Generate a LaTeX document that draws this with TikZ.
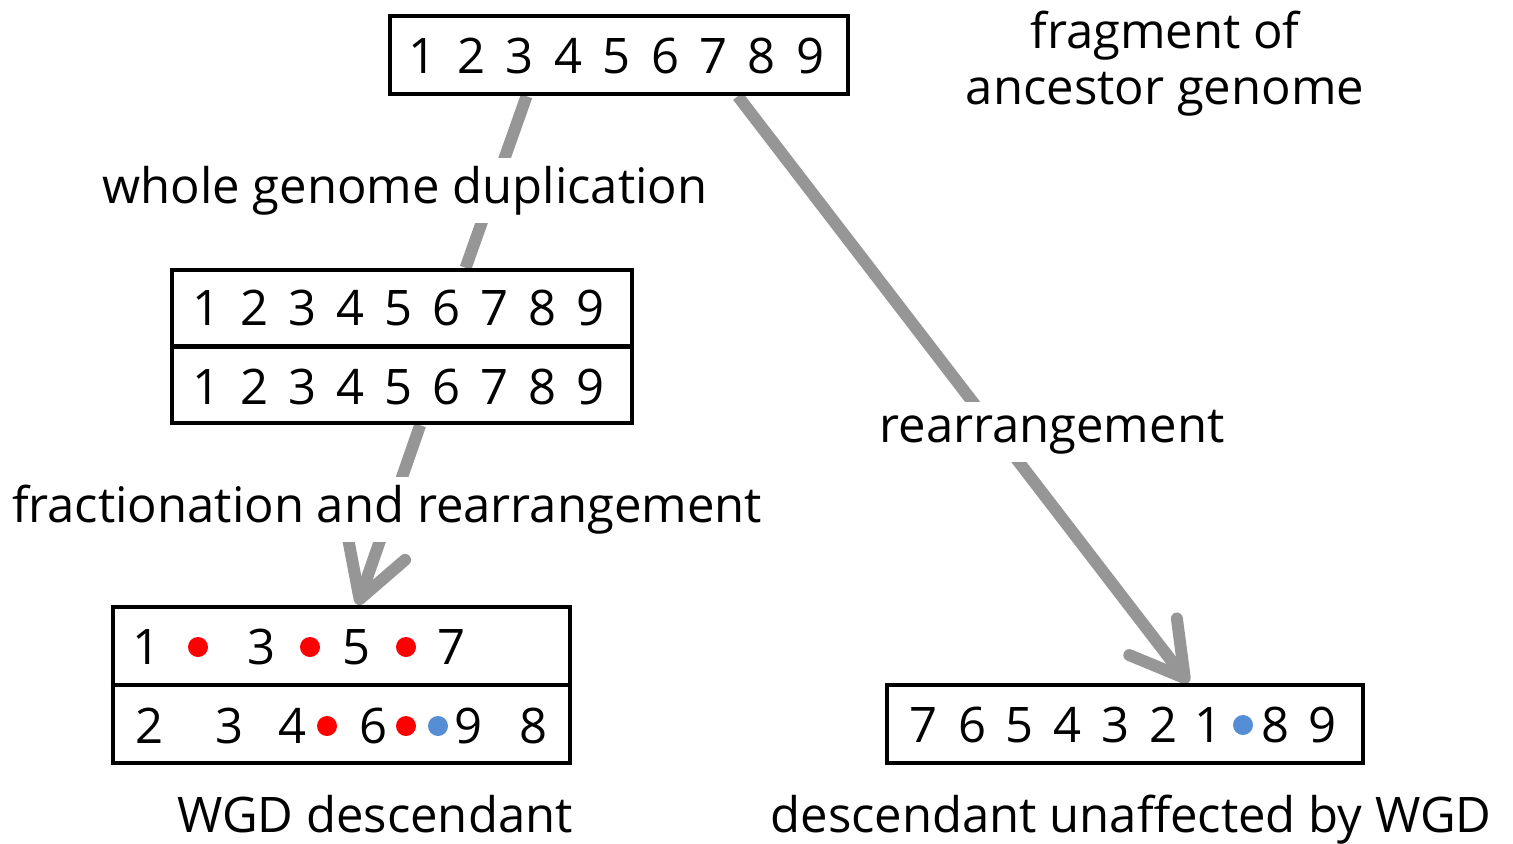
\documentclass[tikz,border=0pt]{standalone}
\usepackage{fontspec}
\setmainfont{Open Sans}
\usetikzlibrary{arrows.meta,calc}
\definecolor{arrowgray}{RGB}{150,150,150}
\definecolor{dotred}{RGB}{255,0,0}
\definecolor{dotblue}{RGB}{85,142,213}
\pgfdeclarelayer{bg}
\pgfsetlayers{bg,main}
\begin{document}
\begin{tikzpicture}[x=0.5pt,y=-0.5pt,
  box/.style={draw=black,line width=2.2pt,rectangle,inner sep=0pt},
  divider/.style={draw=black,line width=2.2pt},
  digit/.style={inner sep=0pt,font=\fontsize{24.5}{29}\selectfont},
  lbl/.style={font=\fontsize{24.5}{28}\selectfont,inner sep=4pt},
  lblgap/.style={lbl,fill=white},
  conn/.style={draw=arrowgray,line width=6pt},
  arr/.style={conn,-{Straight Barb[length=26pt,width=30pt,round]}},
  rdot/.style={circle,fill=dotred,inner sep=0pt,minimum size=10pt},
  bdot/.style={circle,fill=dotblue,inner sep=0pt,minimum size=10pt}]
\useasboundingbox (0,0) rectangle (1513,843);

% boxes
\node[box,minimum width=229pt,minimum height=39pt] (anc) at (619,55) {};
\node[box,minimum width=230pt,minimum height=76.5pt] (mid) at (402,346.5) {};
\draw[divider] (mid.west) -- (mid.east);
\node[box,minimum width=228.5pt,minimum height=78pt] (wgdbox) at (341.5,685) {};
\draw[divider] (wgdbox.west) -- (wgdbox.east);
\node[box,minimum width=238pt,minimum height=39pt] (unbox) at (1125,724) {};

% connectors
\begin{pgfonlayer}{bg}
\draw[conn] ($(anc.south west)!0.30!(anc.south east)$) -- ($(mid.north west)!0.637!(mid.north east)$);
\draw[arr] ($(mid.south west)!0.539!(mid.south east)$) -- ($(wgdbox.north west)!0.535!(wgdbox.north east)$);
\draw[arr] ($(anc.south west)!0.757!(anc.south east)$) -- ($(unbox.north west)!0.632!(unbox.north east)$);
\end{pgfonlayer}

% labels
\node[lblgap,anchor=base] (wgdlbl) at (405,203) {whole genome duplication};
\node[lblgap,anchor=base] (fraclbl) at (387,522) {fractionation and rearrangement};
\node[lblgap,anchor=base] (realbl) at (1052,442) {rearrangement};
\node[lbl,anchor=base] (frag1) at (1165,48) {fragment of};
\node[lbl,anchor=base] (frag2) at (1165,104) {ancestor genome};
\node[lbl,anchor=base] (wgdd) at (375,832) {WGD descendant};
\node[lbl,anchor=base] (unaff) at (1131,832) {descendant unaffected by WGD};

% ancestor digits
\foreach \d [count=\i from 0] in {1,...,9}
  \node[digit] (a\d) at ({423+48.4*\i},56) {\d};
% duplicated digits
\foreach \d [count=\i from 0] in {1,...,9} {
  \node[digit] (u\d) at ({207+47.9*\i},308) {\d};
  \node[digit] (v\d) at ({207+47.9*\i},387) {\d};
}
% WGD descendant row 1
\node[digit] (p1) at (147,647) {1};
\node[rdot] (pr1) at (198,647) {};
\node[digit] (p3) at (262,647) {3};
\node[rdot] (pr2) at (310,647) {};
\node[digit] (p5) at (357,647) {5};
\node[rdot] (pr3) at (406,647) {};
\node[digit] (p7) at (452,647) {7};
% WGD descendant row 2
\node[digit] (q2) at (150,726) {2};
\node[digit] (q3) at (230,726) {3};
\node[digit] (q4) at (293,726) {4};
\node[rdot] (qr1) at (327,726) {};
\node[digit] (q6) at (374,726) {6};
\node[rdot] (qr2) at (406,726) {};
\node[bdot] (qb1) at (438,726) {};
\node[digit] (q9) at (468,726) {9};
\node[digit] (q8) at (533,726) {8};
% unaffected descendant
\node[digit] (r7) at (923,725) {7};
\node[digit] (r6) at (972,725) {6};
\node[digit] (r5) at (1019,725) {5};
\node[digit] (r4) at (1067,725) {4};
\node[digit] (r3) at (1115,725) {3};
\node[digit] (r2) at (1163,725) {2};
\node[digit] (r1) at (1208,725) {1};
\node[bdot] (rb1) at (1243,725) {};
\node[digit] (r8) at (1275,725) {8};
\node[digit] (r9) at (1322,725) {9};
\end{tikzpicture}
\end{document}
